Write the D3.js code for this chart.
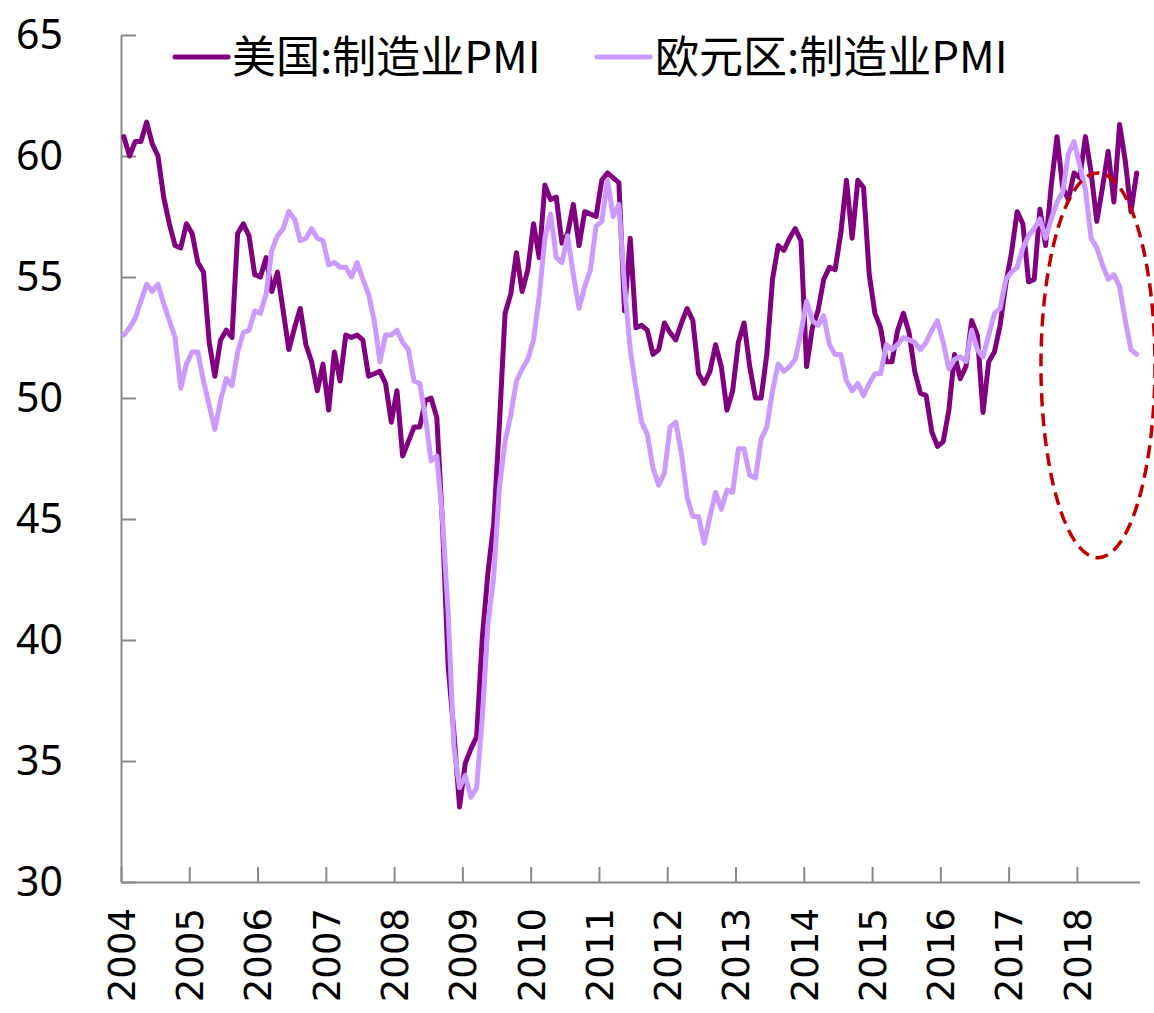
<!DOCTYPE html>
<html>
<head>
<meta charset="utf-8">
<script src="https://cdn.jsdelivr.net/npm/d3@7"></script>
<style>
  html, body { margin: 0; padding: 0; background: #ffffff; }
  svg { display: block; }
</style>
</head>
<body>
<div id="chart"></div>
<script>
// Year labels on the category axis (one tick every 12 months)
const years = ["2004","2005","2006","2007","2008","2009","2010","2011",
               "2012","2013","2014","2015","2016","2017","2018"];

// Y-axis tick values
const yTicks = [30, 35, 40, 45, 50, 55, 60, 65];

// Series names
const seriesNames = ["美国:制造业PMI", "欧元区:制造业PMI"];

// US manufacturing PMI, monthly Jan 2004 - Nov 2018
const usPMI = [
  60.8, 60.0, 60.6, 60.6, 61.4, 60.5, 60.0, 58.3, 57.2, 56.3, 56.2, 57.2,
  56.8, 55.6, 55.2, 52.3, 50.9, 52.4, 52.8, 52.5, 56.8, 57.2, 56.7, 55.1,
  55.0, 55.8, 54.4, 55.2, 53.6, 52.0, 52.9, 53.7, 52.2, 51.5, 50.3, 51.4,
  49.5, 51.9, 50.7, 52.6, 52.5, 52.6, 52.4, 50.9, 51.0, 51.1, 50.6, 49.0,
  50.3, 47.6, 48.2, 48.8, 48.8, 49.9, 50.0, 49.2, 44.8, 38.9, 36.2, 33.1,
  34.9, 35.5, 36.0, 40.1, 42.8, 44.8, 48.9, 53.5, 54.3, 56.0, 54.4, 55.3,
  57.2, 55.8, 58.8, 58.2, 58.3, 56.4, 56.8, 58.0, 56.3, 57.7, 57.6, 57.5,
  59.0, 59.3, 59.1, 58.9, 53.6, 56.6, 52.9, 53.0, 52.8, 51.8, 52.0, 53.1,
  52.7, 52.4, 53.1, 53.7, 53.2, 51.0, 50.6, 51.1, 52.2, 51.3, 49.5, 50.3,
  52.3, 53.1, 51.3, 50.0, 50.0, 51.8, 54.9, 56.3, 56.1, 56.6, 57.0, 56.5,
  51.3, 52.9, 53.6, 54.9, 55.4, 55.3, 56.8, 59.0, 56.6, 59.0, 58.7, 55.1,
  53.5, 52.9, 51.5, 51.5, 52.8, 53.5, 52.7, 51.1, 50.2, 50.1, 48.6, 48.0,
  48.2, 49.5, 51.8, 50.8, 51.3, 53.2, 52.6, 49.4, 51.5, 51.9, 53.0, 54.7,
  56.0, 57.7, 57.2, 54.8, 54.9, 57.8, 56.3, 58.8, 60.8, 58.7, 58.2, 59.3,
  59.1, 60.8, 59.3, 57.3, 58.7, 60.2, 58.1, 61.3, 59.8, 57.7, 59.3
];

// Euro area manufacturing PMI, monthly Jan 2004 - Nov 2018
const euroPMI = [
  52.6, 52.9, 53.3, 54.0, 54.7, 54.4, 54.7, 53.9, 53.2, 52.5, 50.4, 51.4,
  51.9, 51.9, 50.7, 49.7, 48.7, 49.9, 50.8, 50.5, 51.9, 52.7, 52.8, 53.6,
  53.5, 54.3, 56.1, 56.7, 57.0, 57.7, 57.4, 56.5, 56.6, 57.0, 56.6, 56.5,
  55.5, 55.6, 55.4, 55.4, 55.0, 55.6, 54.9, 54.3, 53.2, 51.5, 52.6, 52.6,
  52.8, 52.3, 52.0, 50.7, 50.6, 49.2, 47.4, 47.6, 45.0, 41.1, 35.6, 33.9,
  34.4, 33.5, 33.9, 36.8, 40.7, 42.6, 46.3, 48.2, 49.3, 50.7, 51.2, 51.6,
  52.4, 54.2, 56.6, 57.6, 55.8, 55.6, 56.7, 55.1, 53.7, 54.6, 55.3, 57.1,
  57.3, 59.0, 57.5, 58.0, 54.6, 52.0, 50.4, 49.0, 48.5, 47.1, 46.4, 46.9,
  48.8, 49.0, 47.7, 45.9, 45.1, 45.1, 44.0, 45.1, 46.1, 45.4, 46.2, 46.1,
  47.9, 47.9, 46.8, 46.7, 48.3, 48.8, 50.3, 51.4, 51.1, 51.3, 51.6, 52.7,
  54.0, 53.2, 53.0, 53.4, 52.2, 51.8, 51.8, 50.7, 50.3, 50.6, 50.1, 50.6,
  51.0, 51.0, 52.2, 52.0, 52.2, 52.5, 52.4, 52.3, 52.0, 52.3, 52.8, 53.2,
  52.3, 51.2, 51.6, 51.7, 51.5, 52.8, 52.0, 51.7, 52.6, 53.5, 53.7, 54.9,
  55.2, 55.4, 56.2, 56.7, 57.0, 57.4, 56.6, 57.4, 58.1, 58.5, 60.1, 60.6,
  59.6, 58.6, 56.6, 56.2, 55.5, 54.9, 55.1, 54.6, 53.2, 52.0, 51.8
];

const W = 1154, H = 1013;
const plot = { left: 121, right: 1139.5, top: 35, bottom: 882 };
const colors = ["#800080", "#CC99FF"];
const nMonths = usPMI.length;

const svg = d3.select("#chart").append("svg")
  .attr("width", W).attr("height", H)
  .attr("viewBox", `0 0 ${W} ${H}`);

svg.append("rect").attr("width", W).attr("height", H).attr("fill", "#fff");

// Month index scale: each month occupies one slot, points sit mid-slot
const x = d3.scaleLinear().domain([0, nMonths]).range([plot.left, plot.right]);
const y = d3.scaleLinear().domain([30, 65]).range([plot.bottom, plot.top]);

const axisColor = "#898989";

// Y axis
const yAxis = svg.append("g")
  .attr("transform", `translate(${plot.left},0)`)
  .call(d3.axisLeft(y).tickValues(yTicks).tickSizeInner(-15).tickSizeOuter(0).tickPadding(58));
yAxis.select(".domain").attr("stroke", axisColor).attr("stroke-width", 2);
yAxis.selectAll(".tick line").attr("stroke", axisColor).attr("stroke-width", 2);
yAxis.selectAll(".tick text")
  .attr("fill", "#000")
  .style("font-family", "'Noto Sans', 'Open Sans', sans-serif")
  .style("font-size", "41px");

// X axis with a tick at each January
const yearTicks = years.map((_, k) => k * 12);
const xAxis = svg.append("g")
  .attr("transform", `translate(0,${plot.bottom})`)
  .call(d3.axisBottom(x).tickValues(yearTicks)
    .tickFormat(v => years[v / 12])
    .tickSizeInner(-15).tickSizeOuter(0).tickPadding(0));
xAxis.select(".domain").attr("stroke", axisColor).attr("stroke-width", 2);
xAxis.selectAll(".tick line").attr("stroke", axisColor).attr("stroke-width", 2);
xAxis.selectAll(".tick text")
  .attr("fill", "#000")
  .attr("transform", "rotate(-90)")
  .attr("x", -26).attr("y", 0).attr("dy", "0.36em")
  .attr("text-anchor", "end")
  .style("font-family", "'DejaVu Sans', sans-serif")
  .style("font-size", "37px");

// Series lines
const line = d3.line()
  .x((d, i) => x(i + 0.5))
  .y(d => y(d));

[usPMI, euroPMI].forEach((series, k) => {
  svg.append("path")
    .datum(series)
    .attr("fill", "none")
    .attr("stroke", colors[k])
    .attr("stroke-width", 5)
    .attr("stroke-linejoin", "round")
    .attr("stroke-linecap", "round")
    .attr("d", line);
});

// Legend
const legendPos = [{ x1: 175, x2: 228, tx: 232 }, { x1: 597, x2: 650, tx: 655 }];
const legendY = 57;
seriesNames.forEach((name, k) => {
  const p = legendPos[k];
  svg.append("line")
    .attr("x1", p.x1).attr("x2", p.x2)
    .attr("y1", legendY).attr("y2", legendY)
    .attr("stroke", colors[k]).attr("stroke-width", 5)
    .attr("stroke-linecap", "round");
  svg.append("text")
    .attr("x", p.tx).attr("y", legendY).attr("dy", "0.36em")
    .attr("fill", "#000")
    .style("font-family", "'Noto Sans CJK SC', sans-serif")
    .style("font-size", "44px")
    .text(name);
});

// Dashed ellipse highlighting the 2018 divergence
svg.append("ellipse")
  .attr("cx", x(171.7))
  .attr("cy", (y(59.3) + y(43.4)) / 2)
  .attr("rx", 57)
  .attr("ry", (y(43.4) - y(59.3)) / 2)
  .attr("fill", "none")
  .attr("stroke", "#C00000")
  .attr("stroke-width", 3.5)
  .attr("stroke-dasharray", "13,7");
</script>
</body>
</html>
